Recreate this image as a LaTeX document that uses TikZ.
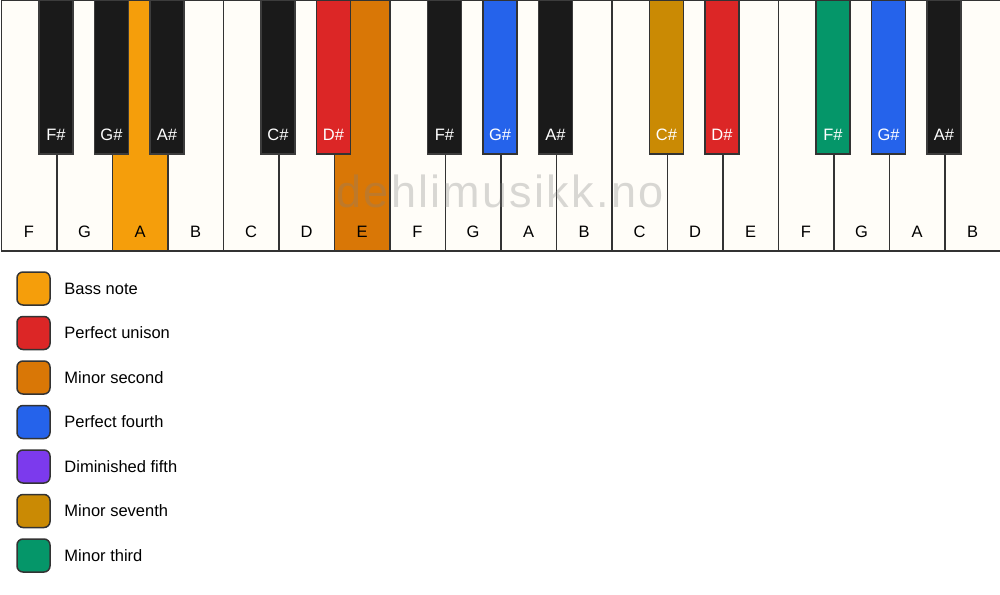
\documentclass[tikz,border=0pt]{standalone}
\usepackage{fontspec}
\setmainfont{Liberation Sans}
\newfontfamily\wmfont[LetterSpace=5]{Liberation Sans}
\usetikzlibrary{positioning}
\definecolor{keyline}{HTML}{333333}
\definecolor{ivory}{HTML}{FFFDF8}
\definecolor{ebony}{HTML}{1A1A1A}
\definecolor{ebonyline}{HTML}{3C3C3C}
\definecolor{bass}{HTML}{F59E0B}
\definecolor{unison}{HTML}{DC2626}
\definecolor{minsecond}{HTML}{D97706}
\definecolor{fourth}{HTML}{2563EB}
\definecolor{dimfifth}{HTML}{7C3AED}
\definecolor{minseventh}{HTML}{CA8A04}
\definecolor{minthird}{HTML}{059669}
\begin{document}
\begin{tikzpicture}[x=1pt, y=-1pt,
	wkey/.style={draw=keyline, line width=1.5pt, fill=ivory, minimum width=55.5pt, minimum height=250pt, anchor=north west, inner sep=0pt, label={[wtext]south:#1}},
	wtext/.style={anchor=base, yshift=14pt, inner sep=0pt, text=black, font=\fontsize{16.5}{19}\selectfont},
	bkey/.style={draw=ebonyline, line width=1.5pt, fill=ebony, minimum width=34pt, minimum height=153pt, anchor=north, inner sep=0pt, label={[btext]south:#1}},
	btext/.style={anchor=base, yshift=14pt, inner sep=0pt, text=white, font=\fontsize{16.5}{19}\selectfont},
	legbox/.style={draw=keyline, line width=1.5pt, rounded corners=6pt, minimum size=33pt, inner sep=0pt},
	legtext/.style={inner sep=0pt, text height=11.8pt, text depth=0pt, font=\fontsize{16.5}{19}\selectfont}]
	\useasboundingbox (0,0) rectangle (1000,594);
	\fill[white] (0,0) rectangle (1000,594);
	% white keys
	\node[wkey=F] (W1) at (0.5,0) {};
	\node[wkey=G] (W2) at (56,0) {};
	\node[wkey=A, fill=bass] (W3) at (111.5,0) {};
	\node[wkey=B] (W4) at (167,0) {};
	\node[wkey=C] (W5) at (222.5,0) {};
	\node[wkey=D] (W6) at (278,0) {};
	\node[wkey=E, fill=minsecond] (W7) at (333.5,0) {};
	\node[wkey=F] (W8) at (389,0) {};
	\node[wkey=G] (W9) at (444.5,0) {};
	\node[wkey=A] (W10) at (500,0) {};
	\node[wkey=B] (W11) at (555.5,0) {};
	\node[wkey=C] (W12) at (611,0) {};
	\node[wkey=D] (W13) at (666.5,0) {};
	\node[wkey=E] (W14) at (722,0) {};
	\node[wkey=F] (W15) at (777.5,0) {};
	\node[wkey=G] (W16) at (833,0) {};
	\node[wkey=A] (W17) at (888.5,0) {};
	\node[wkey=B] (W18) at (944,0) {};
	% watermark
	\node[text=gray, text opacity=0.3, inner sep=0pt, font=\wmfont\fontsize{45}{50}\selectfont] (M) at (500,191) {dehlimusikk.no};
	% black keys
	\node[bkey=F\#] (S1) at (56,0) {};
	\node[bkey=G\#] (S2) at (111.5,0) {};
	\node[bkey=A\#] (S3) at (167,0) {};
	\node[bkey=C\#] (S4) at (278,0) {};
	\node[bkey=D\#, fill=unison, draw=keyline] (S5) at (333.5,0) {};
	\node[bkey=F\#] (S6) at (444.5,0) {};
	\node[bkey=G\#, fill=fourth, draw=keyline] (S7) at (500,0) {};
	\node[bkey=A\#] (S8) at (555.5,0) {};
	\node[bkey=C\#, fill=minseventh, draw=keyline] (S9) at (666.5,0) {};
	\node[bkey=D\#, fill=unison, draw=keyline] (S10) at (722,0) {};
	\node[bkey=F\#, fill=minthird, draw=keyline] (S11) at (833,0) {};
	\node[bkey=G\#, fill=fourth, draw=keyline] (S12) at (888.5,0) {};
	\node[bkey=A\#] (S13) at (944,0) {};
	% legend
	\node[legbox, fill=bass] (L1) at (33.5,288.5) {};
	\node[legbox, fill=unison] (L2) at (33.5,333) {};
	\node[legbox, fill=minsecond] (L3) at (33.5,377.5) {};
	\node[legbox, fill=fourth] (L4) at (33.5,422) {};
	\node[legbox, fill=dimfifth] (L5) at (33.5,466.5) {};
	\node[legbox, fill=minseventh] (L6) at (33.5,511) {};
	\node[legbox, fill=minthird] (L7) at (33.5,555.5) {};
	\node[legtext, right=13.5pt of L1] (T1) {Bass note};
	\node[legtext, right=13.5pt of L2] (T2) {Perfect unison};
	\node[legtext, right=13.5pt of L3] (T3) {Minor second};
	\node[legtext, right=13.5pt of L4] (T4) {Perfect fourth};
	\node[legtext, right=13.5pt of L5] (T5) {Diminished fifth};
	\node[legtext, right=13.5pt of L6] (T6) {Minor seventh};
	\node[legtext, right=13.5pt of L7] (T7) {Minor third};
\end{tikzpicture}
\end{document}
